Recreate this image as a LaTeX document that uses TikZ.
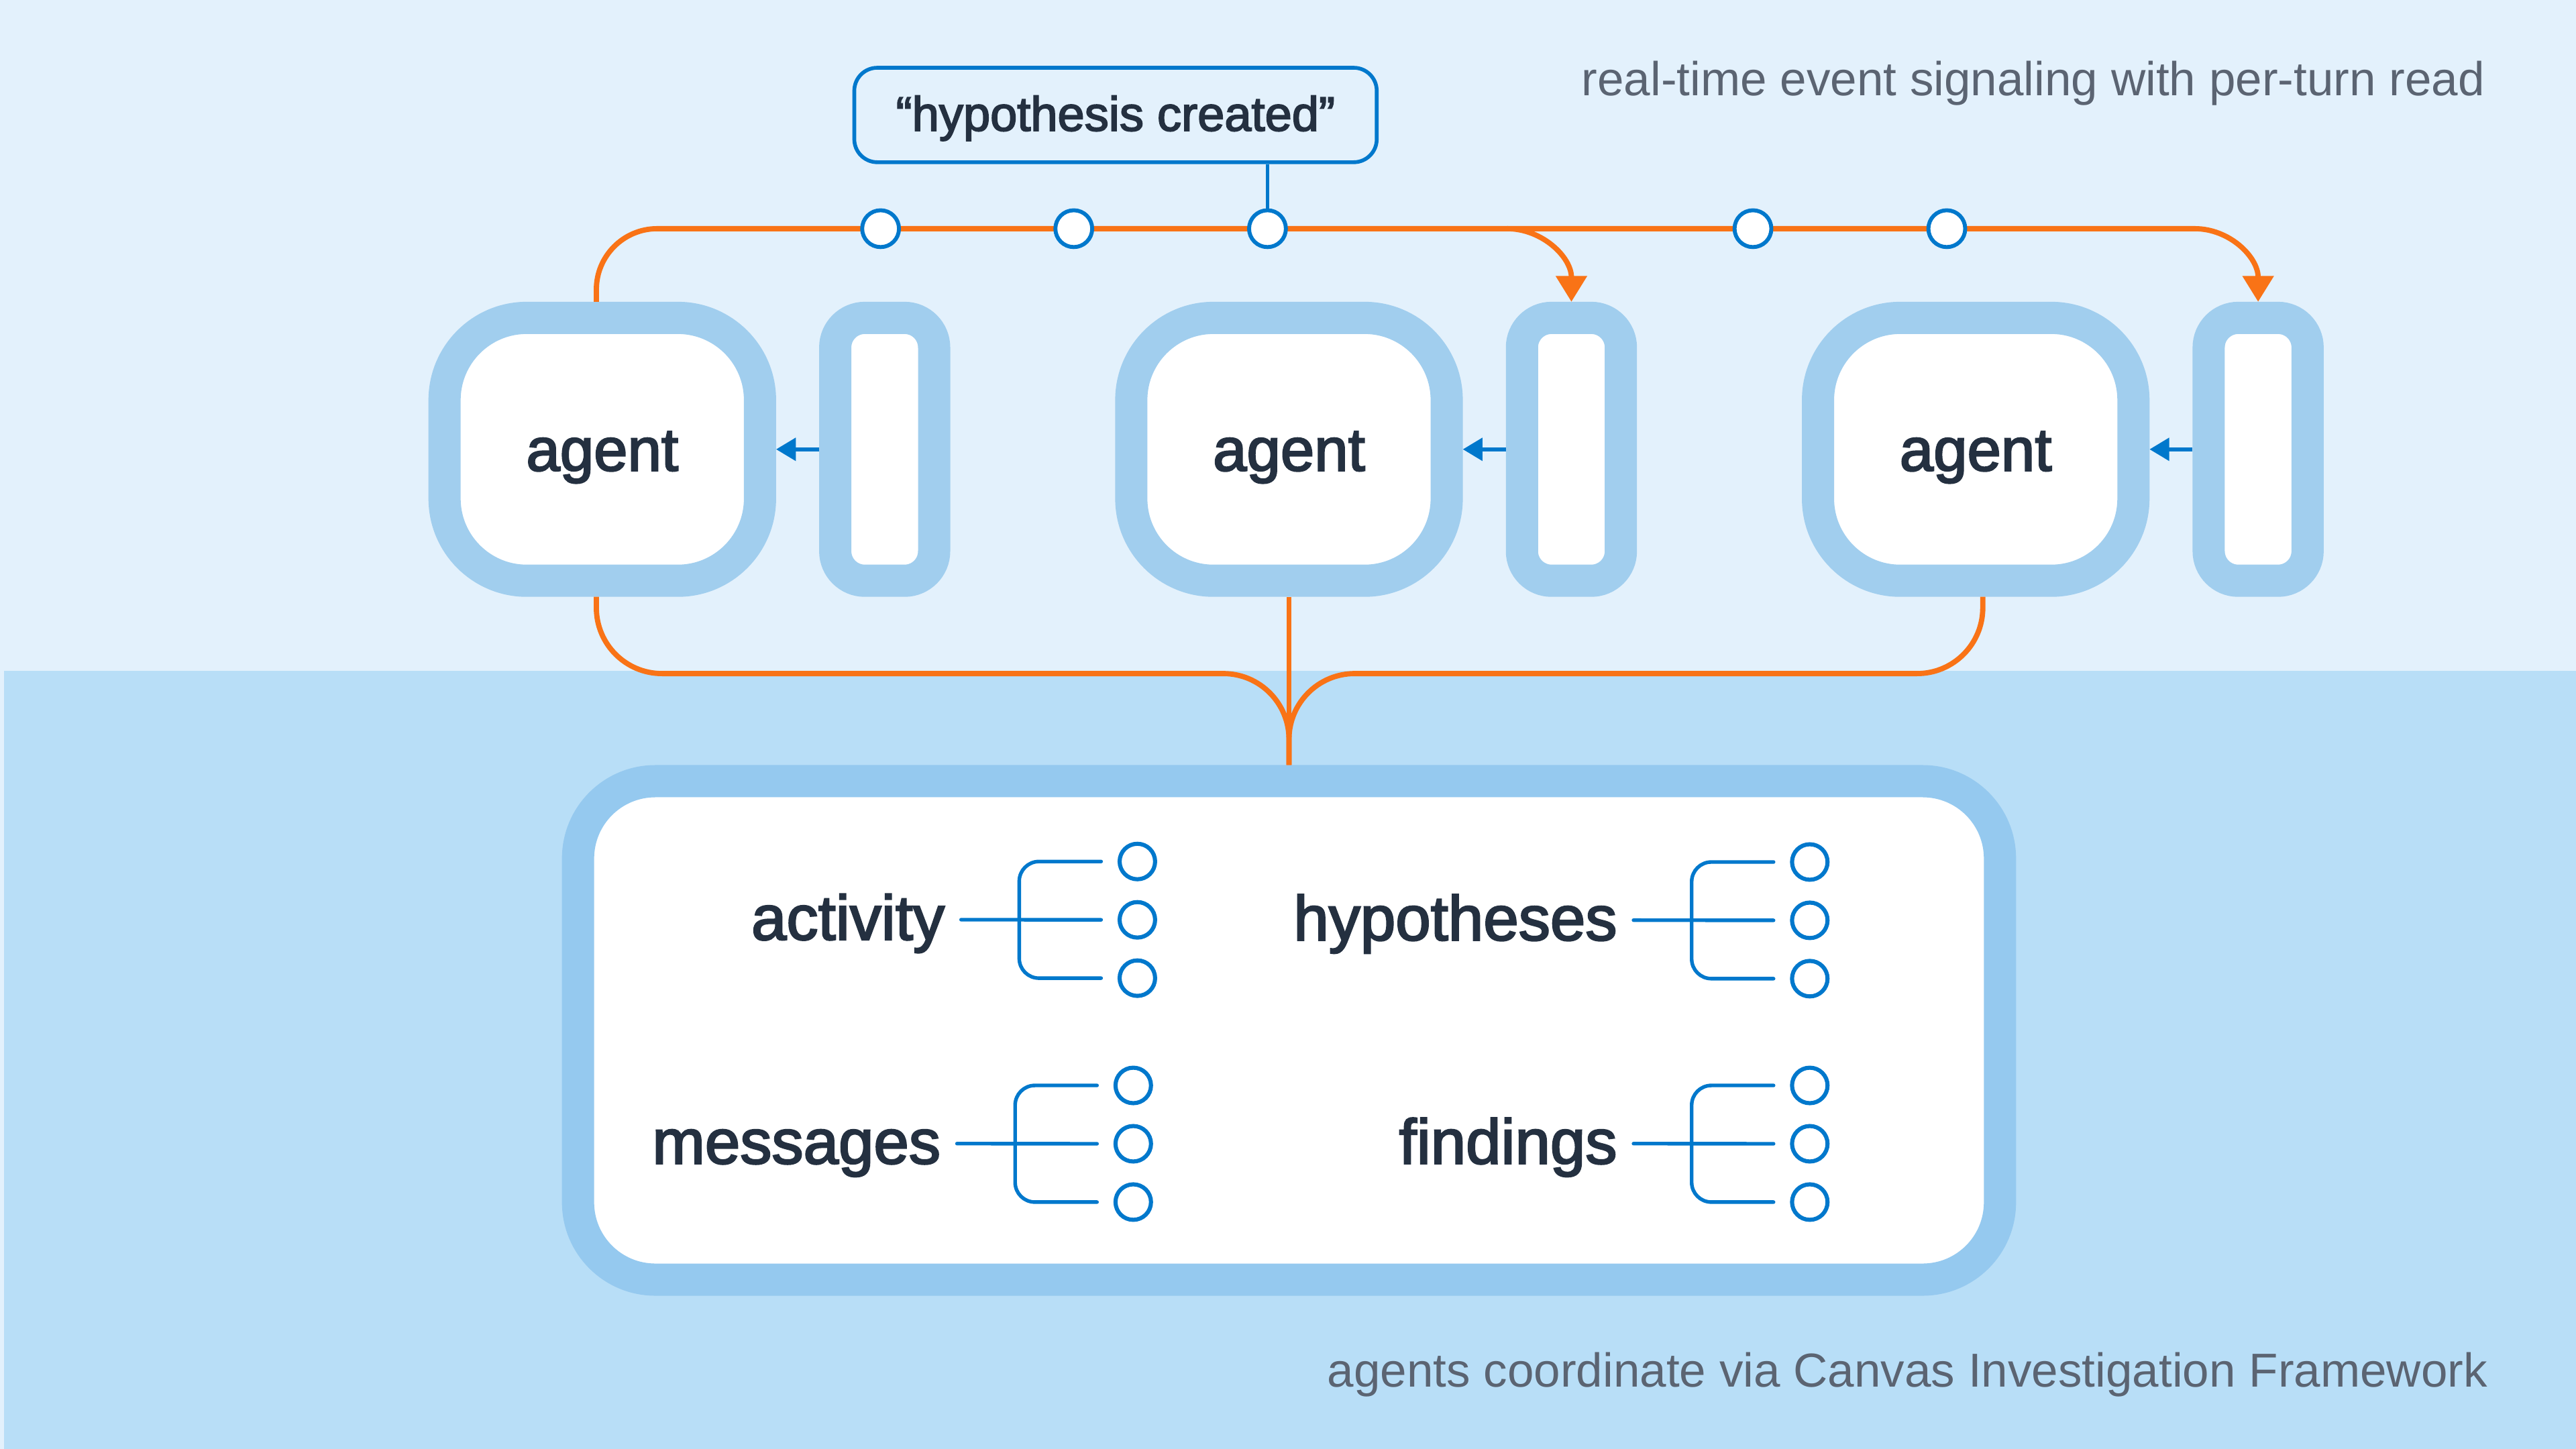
\documentclass[tikz,border=0pt]{standalone}
\usepackage{fontspec}
\setmainfont{Liberation Sans}
\newfontfamily\medfont{Liberation Sans}[FakeBold=2.6]
\usetikzlibrary{arrows.meta,calc}
\definecolor{bgtop}{HTML}{E3F1FC}
\definecolor{bgbot}{HTML}{B8DEF7}
\definecolor{agentborder}{HTML}{A1CEEE}
\definecolor{canvasborder}{HTML}{95C9EF}
\definecolor{busorange}{HTML}{F97316}
\definecolor{linkblue}{HTML}{0078CC}
\definecolor{inkdark}{HTML}{243040}
\definecolor{inkgray}{HTML}{5B6472}
\newcommand{\mytree}[4]{% #1 name, #2 text node, #3 x0, #4 y
  \node[treedot] (#1-1) at ({#3+107.3},{#4-35.5}) {};
  \node[treedot] (#1-2) at ({#3+107.3},{#4}) {};
  \node[treedot] (#1-3) at ({#3+107.3},{#4+35.5}) {};
  \draw[treeline] ([xshift=10pt]#2.east) -- ([xshift=-10pt]#1-2.west);
  \draw[treeline, rounded corners=12pt] ([xshift=-10pt]#1-1.west) -- ({#3+35.4},{#4-35.5}) -- ({#3+35.4},{#4+35.5}) -- ([xshift=-10pt]#1-3.west);
}
\begin{document}
\begin{tikzpicture}[x=1pt,y=-1pt,
  agentbox/.style={draw=agentborder, line width=19.6pt, fill=white, rounded corners=50pt,
    minimum width=192pt, minimum height=160pt, inner sep=0pt,
    font=\medfont\fontsize{37}{40}\selectfont, text=inkdark, text height=26pt, text depth=0pt},
  panelbox/.style={draw=agentborder, line width=19.6pt, fill=white, rounded corners=18pt,
    minimum width=60.2pt, minimum height=160pt, inner sep=0pt},
  canvasbox/.style={draw=canvasborder, line width=19.6pt, fill=white, rounded corners=47pt,
    minimum width=865.5pt, minimum height=303.4pt, inner sep=0pt},
  labelbox/.style={draw=linkblue, line width=2.3pt, fill=bgtop, rounded corners=14pt,
    minimum width=318pt, minimum height=57.5pt, inner sep=0pt,
    font=\medfont\fontsize{29.5}{32}\selectfont, text=inkdark, text height=19.2pt, text depth=0pt},
  busdot/.style={circle, draw=linkblue, line width=2.4pt, fill=white, minimum size=22.4pt, inner sep=0pt},
  treedot/.style={circle, draw=linkblue, line width=2.5pt, fill=white, minimum size=21.6pt, inner sep=0pt},
  treeline/.style={draw=linkblue, line width=2.2pt, line cap=round},
  storelabel/.style={font=\medfont\fontsize{38.5}{41}\selectfont, text=inkdark, inner sep=0pt, outer sep=0pt,
    text height=24.4pt, text depth=0pt, anchor=base east},
  caption/.style={font=\fontsize{29}{32}\selectfont, text=inkgray, inner sep=0pt, anchor=base east},
  bus/.style={draw=busorange, line width=3.2pt},
  busarrow/.style={bus, -{Triangle[length=15.7pt,width=18.4pt]}},
  readarrow/.style={draw=linkblue, line width=2.5pt, -{Triangle[length=12pt,width=13.6pt]}}
]
\useasboundingbox (0,0) rectangle (1568,882);
% background bands
\fill[bgtop] (0,0) rectangle (1568,882);
\fill[bgbot] (2.45,408.5) rectangle (1568,882);

% agents, panels, canvas, label
\node[agentbox] (a1) at (366.6,273.5) {agent};
\node[agentbox] (a2) at (784.6,273.5) {agent};
\node[agentbox] (a3) at (1202.6,273.5) {agent};
\node[panelbox] (p1) at (538.5,273.5) {};
\node[panelbox] (p2) at (956.5,273.5) {};
\node[panelbox] (p3) at (1374.5,273.5) {};
\node[canvasbox] (cv) at (784.6,627.2) {};
\node[labelbox] (hc) at (679,70) {“hypothesis created”};

% orange top bus
\coordinate (a1top) at ($(a1.north)+(-3.6,0)$);
\coordinate (br2) at (917.4,139.2);
\draw[busarrow] (a1top) -- (363,176.2) .. controls (363,155.8) and (379.6,139.2) .. (400,139.2)
  -- (1335.9,139.2) .. controls (1357.2,139.2) and (1374.5,156.5) .. (p3.north);
\draw[busarrow] (br2) .. controls (938.7,139.2) and (956.5,156.5) .. (p2.north);

% orange bottom bus
\coordinate (a1bot) at ($(a1.south)+(-3.6,0)$);
\coordinate (a3bot) at ($(a3.south)+(4.3,0)$);
\draw[bus] (a1bot) -- (363,370) .. controls (363,392.1) and (380.9,410) .. (403,410)
  -- (744.6,410) .. controls (766.7,410) and (784.6,427.9) .. (784.6,450) -- (cv.north);
\draw[bus] (a3bot) -- (1206.9,370) .. controls (1206.9,392.1) and (1189,410) .. (1166.9,410)
  -- (824.6,410) .. controls (802.5,410) and (784.6,427.9) .. (784.6,450) -- (cv.north);
\draw[bus] (a2.south) -- (cv.north);

% event dots on the bus
\node[busdot] (c1) at (536,139.2) {};
\node[busdot] (c2) at (653.6,139.2) {};
\node[busdot] (c3) at (771.5,139.2) {};
\node[busdot] (c4) at (1067,139.2) {};
\node[busdot] (c5) at (1185,139.2) {};
\draw[draw=linkblue, line width=2pt] (c3.north |- hc.south) -- (c3.north);

% per-turn reads
\draw[readarrow] (p1.west) -- (a1.east);
\draw[readarrow] (p2.west) -- (a2.east);
\draw[readarrow] (p3.west) -- (a3.east);

% canvas contents
\node[storelabel] (tact) at (575,572) {activity};
\node[storelabel] (tmsg) at (572.5,708.3) {messages};
\node[storelabel] (thyp) at (984.3,572.3) {hypotheses};
\node[storelabel] (tfind) at (984.3,708.3) {findings};
\mytree{act}{tact}{585}{559.9}
\mytree{msg}{tmsg}{582.5}{696.2}
\mytree{hyp}{thyp}{994.3}{560.2}
\mytree{fnd}{tfind}{994.3}{696.2}

% captions
\node[caption] (cap1) at (1512.6,58.3) {real-time event signaling with per-turn read};
\node[caption] (cap2) at (1514.3,844.1) {agents coordinate via Canvas Investigation Framework};
\end{tikzpicture}
\end{document}
